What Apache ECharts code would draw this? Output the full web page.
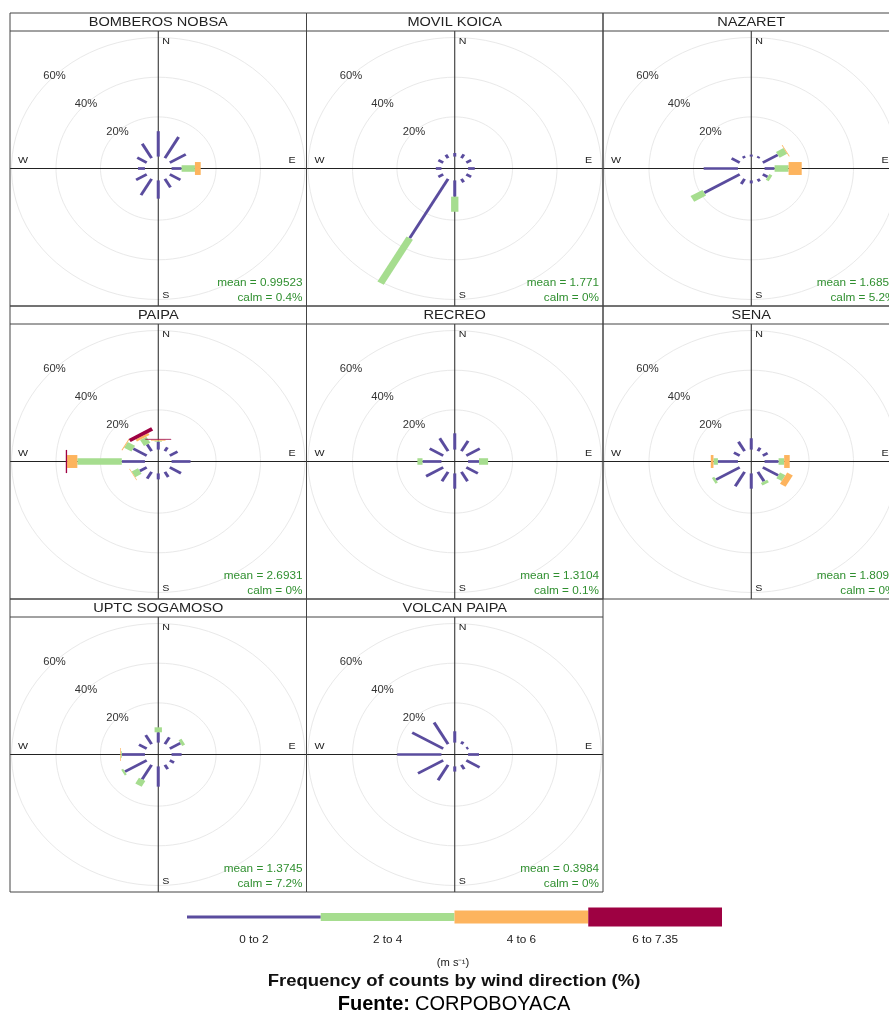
<!DOCTYPE html>
<html>
<head>
<meta charset="utf-8">
<script src="https://cdn.jsdelivr.net/npm/echarts@6/dist/echarts.min.js"></script>
<style>
html,body{margin:0;padding:0;background:#fff;}
#chart{width:889px;height:1021px;}
</style>
</head>
<body>
<div id="chart"></div>
<script>
// ---------------- DATA ----------------
const directions = [0, 30, 60, 90, 120, 150, 180, 210, 240, 270, 300, 330];
const speedBins = ['0 to 2', '2 to 4', '4 to 6', '6 to 7.35'];
const stationNames = ['BOMBEROS NOBSA', 'MOVIL KOICA', 'NAZARET', 'PAIPA', 'RECREO', 'SENA', 'UPTC SOGAMOSO', 'VOLCAN PAIPA'];
const meanLabels = ['0.99523', '1.771', '1.6857', '2.6931', '1.3104', '1.8097', '1.3745', '0.3984'];
const calmLabels = ['0.4%', '0%', '5.2%', '0%', '0.1%', '0%', '7.2%', '0%'];
const gridPercents = [20, 40, 60];

// frequency (%) by direction (N, 30, ..., 330) for each speed bin: 0-2, 2-4, 4-6, 6-7.35
const freqBomberosNobsa = [
  [12.8, 12.3, 8.3, 4.5, 5.5, 5.0, 9.2, 9.5, 5.5, 3.1, 4.9, 8.4],
  [0, 0, 0, 6.0, 0, 0, 0, 0, 0, 0, 0, 0],
  [0, 0, 0, 2.6, 0, 0, 0, 0, 0, 0, 0, 0],
  [0, 0, 0, 0, 0, 0, 0, 0, 0, 0, 0, 0]
];
const freqMovilKoica = [
  [1.8, 2.2, 2.5, 3.0, 2.5, 2.0, 8.2, 34.5, 2.5, 2.5, 2.5, 2.0],
  [0, 0, 0, 0, 0, 0, 7.6, 26.2, 0, 0, 0, 0],
  [0, 0, 0, 0, 0, 0, 0, 0, 0, 0, 0, 0],
  [0, 0, 0, 0, 0, 0, 0, 0, 0, 0, 0, 0]
];
const freqNazaret = [
  [1.0, 1.0, 7.8, 4.5, 2.5, 1.5, 1.5, 3.0, 18.4, 15.4, 4.2, 1.2],
  [0, 0, 3.9, 6.3, 1.5, 0, 0, 0, 6.2, 0, 0, 0],
  [0, 0, 0.4, 5.9, 0, 0, 0, 0, 0, 0, 0, 0],
  [0, 0, 0, 0, 0, 0, 0, 0, 0, 0, 0, 0]
];
const freqPaipa = [
  [4.0, 2.2, 4.0, 8.5, 5.8, 3.0, 3.0, 4.0, 3.6, 10.4, 7.0, 4.0],
  [0.5, 0, 0, 0, 0, 0, 0, 0, 3.3, 20.0, 3.8, 3.5],
  [0.5, 0, 0, 0, 0, 0, 0, 0, 0.3, 4.6, 0.4, 1.2],
  [0.4, 0, 0, 0, 0, 0, 0, 0, 0, 0.6, 0, 1.8]
];
const freqRecreo = [
  [8.2, 6.0, 7.0, 4.9, 6.0, 5.5, 7.7, 5.5, 8.9, 8.5, 7.0, 7.5],
  [0, 0, 0, 4.1, 0, 0, 0, 0, 0, 2.3, 0, 0],
  [0, 0, 0, 0, 0, 0, 0, 0, 0, 0, 0, 0],
  [0, 0, 0, 0, 0, 0, 0, 0, 0, 0, 0, 0]
];
const freqSena = [
  [5.7, 2.0, 2.5, 6.3, 8.0, 5.5, 7.7, 8.4, 12.3, 9.0, 3.0, 5.5],
  [0, 0, 0, 2.5, 2.8, 1.5, 0, 0, 1.2, 2.0, 0, 0],
  [0, 0, 0, 2.5, 2.9, 0, 0, 0, 0, 1.2, 0, 0],
  [0, 0, 0, 0, 0, 0, 0, 0, 0, 0, 0, 0]
];
const freqUptcSogamoso = [
  [5.2, 4.0, 5.5, 4.5, 2.2, 2.5, 10.2, 8.5, 11.3, 10.4, 4.0, 5.3],
  [2.5, 0, 1.5, 0, 0, 0, 0, 3.3, 1.0, 0.4, 0, 0],
  [0, 0, 0, 0, 0, 0, 0, 0, 0, 0.3, 0, 0],
  [0, 0, 0, 0, 0, 0, 0, 0, 0, 0, 0, 0]
];
const freqVolcanPaipa = [
  [5.7, 1.5, 1.0, 4.9, 6.9, 2.5, 2.6, 9.0, 13.1, 19.9, 16.1, 12.6],
  [0, 0, 0, 0, 0, 0, 0, 0, 0, 0, 0, 0],
  [0, 0, 0, 0, 0, 0, 0, 0, 0, 0, 0, 0],
  [0, 0, 0, 0, 0, 0, 0, 0, 0, 0, 0, 0]
];
const stationFreqs = [freqBomberosNobsa, freqMovilKoica, freqNazaret, freqPaipa,
  freqRecreo, freqSena, freqUptcSogamoso, freqVolcanPaipa];

// ---------------- STYLE / LAYOUT ----------------
const BIN_COLORS = ['#5A4C9E', '#A6DD8F', '#FDB45E', '#9E0142'];
const PADDLE_HALF = [0.68, 1.65, 3.26, 5.83]; // half widths in % units (openair paddle style)
const LEGEND_H = [3, 8, 13, 19];
const SX = 1.12;           // horizontal stretch of the original figure
const R_MIN = -6, R_MAX = 60, RADIUS = 131;
const COL_X = [10, 306.5, 603, 899.5];
const ROW_Y = [13, 306, 599, 892];
const STRIP_H = 18;
const FONT = '"Liberation Sans", Arial, Helvetica, sans-serif';
const GREEN_TXT = '#2f8f2f';

const chart = echarts.init(document.getElementById('chart'), null, {renderer: 'canvas', width: 889, height: 1021});

const polar = [], angleAxis = [], radiusAxis = [], series = [], graphic = [];

function stretchFrom(c) {
  return p => [c[0] + (p[0] - c[0]) * SX, p[1]];
}

function renderGrid(params, api) {
  const v = api.value(0);
  const c = api.coord([R_MIN, 0]);
  const st = stretchFrom(c);
  const pts = [];
  for (let a = 0; a <= 360; a += 4) pts.push(st(api.coord([v, a])));
  const lp = st(api.coord([v, api.value(1)]));
  return {
    type: 'group',
    children: [
      {type: 'polyline', shape: {points: pts}, style: {stroke: '#e9e9e9', lineWidth: 1, fill: null}},
      {type: 'text', x: lp[0], y: lp[1], scaleX: SX,
        style: {text: v + '%', fill: '#333', font: '10px ' + FONT, align: 'center', verticalAlign: 'middle'}}
    ]
  };
}

function renderPaddle(params, api) {
  const r0 = api.value(0), r1 = api.value(1), ang = api.value(2), k = api.value(3);
  const c = api.coord([R_MIN, 0]);
  const st = stretchFrom(c);
  const a0 = api.coord([r0, ang]), a1 = api.coord([r1, ang]);
  const u0 = api.coord([0, ang]), u1 = api.coord([1, ang]);
  let ux = u1[0] - u0[0], uy = u1[1] - u0[1];
  const ppu = Math.hypot(ux, uy);
  ux /= ppu; uy /= ppu;
  const nx = -uy, ny = ux;
  const w = PADDLE_HALF[k] * ppu;
  const pts = [
    [a0[0] + nx * w, a0[1] + ny * w],
    [a1[0] + nx * w, a1[1] + ny * w],
    [a1[0] - nx * w, a1[1] - ny * w],
    [a0[0] - nx * w, a0[1] - ny * w]
  ].map(st);
  return {type: 'polygon', shape: {points: pts}, style: {fill: BIN_COLORS[k], stroke: null}};
}

function txt(x, y, text, opts) {
  return {
    type: 'text', x: x, y: y, z: 10, silent: true, scaleX: SX,
    style: Object.assign({text: text, fill: '#222', font: '9.5px ' + FONT, align: 'left', verticalAlign: 'middle'}, opts || {})
  };
}
function line(x1, y1, x2, y2, color, z) {
  return {type: 'line', z: z || 4, silent: true, shape: {x1: x1, y1: y1, x2: x2, y2: y2},
    style: {stroke: color, lineWidth: 1}};
}

stationNames.forEach((name, i) => {
  const col = i % 3, row = Math.floor(i / 3);
  const x0 = COL_X[col], x1 = COL_X[col + 1], y0 = ROW_Y[row], y1 = ROW_Y[row + 1];
  const pt = y0 + STRIP_H;
  const cx = (x0 + x1) / 2, cy = (pt + y1) / 2;

  polar.push({center: [cx, cy], radius: RADIUS});
  angleAxis.push({polarIndex: i, type: 'value', min: 0, max: 360, startAngle: 90, clockwise: true, show: false});
  radiusAxis.push({polarIndex: i, type: 'value', min: R_MIN, max: R_MAX, show: false});

  series.push({
    type: 'custom', coordinateSystem: 'polar', polarIndex: i, z: 2, silent: true, animation: false,
    data: gridPercents.map(v => [v, 315]),
    renderItem: renderGrid
  });

  const freqs = stationFreqs[i];
  const paddles = [];
  const cum = directions.map(() => 0);
  for (let k = 0; k < speedBins.length; k++) {
    directions.forEach((d, j) => {
      const f = freqs[k][j];
      if (f > 0) {
        paddles.push([cum[j], cum[j] + f, d, k]);
        cum[j] += f;
      }
    });
  }
  series.push({
    type: 'custom', coordinateSystem: 'polar', polarIndex: i, z: 5, silent: true, animation: false,
    data: paddles,
    renderItem: renderPaddle
  });

  // frame, strip and axes
  graphic.push({type: 'rect', z: 6, silent: true, shape: {x: x0, y: y0, width: x1 - x0, height: y1 - y0},
    style: {fill: null, stroke: '#444', lineWidth: 1}});
  graphic.push(line(x0, pt, x1, pt, '#444', 6));
  graphic.push(txt(cx, y0 + STRIP_H / 2 + 0.5, name, {font: '13px ' + FONT, align: 'center', fill: '#222'}));
  graphic.push(line(cx, pt, cx, y1, '#222', 4));
  graphic.push(line(x0, cy, x1, cy, '#222', 4));
  graphic.push(txt(cx + 4, pt + 10, 'N'));
  graphic.push(txt(cx + 4, y1 - 11, 'S'));
  graphic.push(txt(x0 + 8, cy - 8, 'W'));
  graphic.push(txt(x1 - 11, cy - 8, 'E', {align: 'right'}));
  graphic.push(txt(x1 - 4, y1 - 23, 'mean = ' + meanLabels[i], {align: 'right', fill: GREEN_TXT, font: '10.5px ' + FONT}));
  graphic.push(txt(x1 - 4, y1 - 8, 'calm = ' + calmLabels[i], {align: 'right', fill: GREEN_TXT, font: '10.5px ' + FONT}));
});

// legend colour bar
const LEG_X0 = 187, LEG_X1 = 722, LEG_CY = 917;
const segW = (LEG_X1 - LEG_X0) / speedBins.length;
speedBins.forEach((lab, k) => {
  const h = LEGEND_H[k];
  graphic.push({type: 'rect', z: 6, silent: true,
    shape: {x: LEG_X0 + k * segW, y: LEG_CY - h / 2, width: segW, height: h},
    style: {fill: BIN_COLORS[k]}});
  graphic.push(txt(LEG_X0 + (k + 0.5) * segW, 940, lab, {align: 'center', font: '10.5px ' + FONT, fill: '#222'}));
});
graphic.push(txt(453, 963, '(m s\u207B\u00B9)', {align: 'center', font: '10px ' + FONT, fill: '#222'}));
graphic.push(txt(454, 981, 'Frequency of counts by wind direction (%)', {align: 'center', font: 'bold 16.5px ' + FONT, fill: '#111'}));
graphic.push({type: 'text', x: 410, y: 1004, z: 10, silent: true,
  style: {text: 'Fuente:', font: 'bold 20px ' + FONT, fill: '#000', align: 'right', verticalAlign: 'middle'}});
graphic.push({type: 'text', x: 415, y: 1004, z: 10, silent: true,
  style: {text: 'CORPOBOYACA', font: '20px ' + FONT, fill: '#000', align: 'left', verticalAlign: 'middle'}});

chart.setOption({
  animation: false,
  backgroundColor: '#ffffff',
  polar: polar,
  angleAxis: angleAxis,
  radiusAxis: radiusAxis,
  series: series,
  graphic: {elements: graphic}
});
</script>
</body>
</html>
